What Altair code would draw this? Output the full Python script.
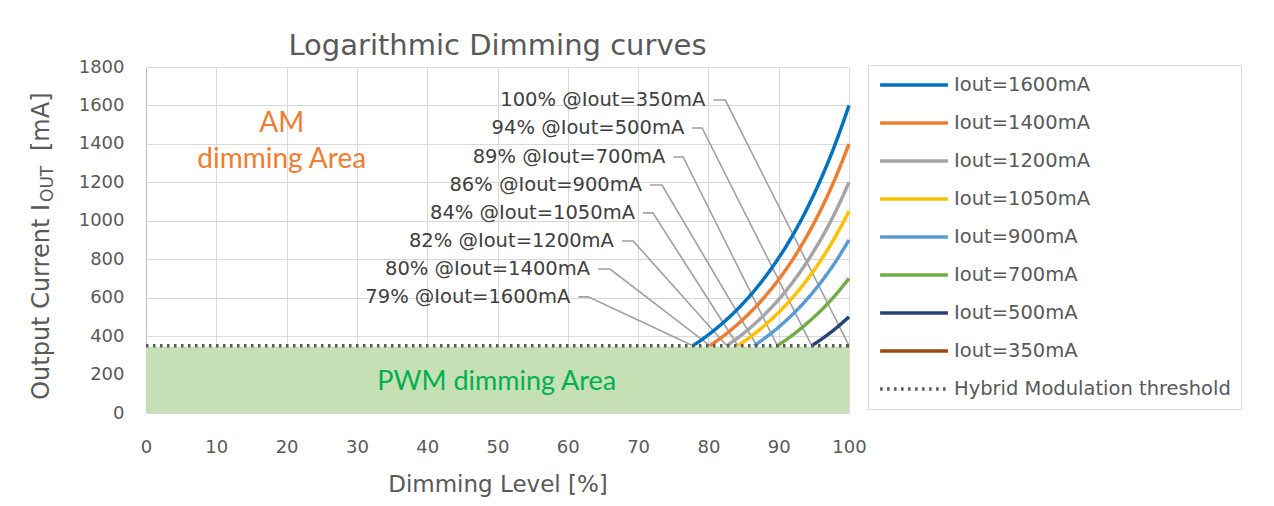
import altair as alt
import pandas as pd

# ---------------- data ----------------
series_names = ["Iout=1600mA", "Iout=1400mA", "Iout=1200mA", "Iout=1050mA",
                "Iout=900mA", "Iout=700mA", "Iout=500mA", "Iout=350mA",
                "Hybrid Modulation threshold"]
series_colors = ["#0070C0", "#ED7D31", "#A5A5A5", "#FFC000", "#5B9BD5",
                 "#70AD47", "#264478", "#9E480E", "#595959"]

x_1600 = [77.8, 80, 82, 84, 86, 88, 90, 92, 94, 96, 98, 100]
y_1600 = [350, 407, 467, 535, 614, 704, 807, 925, 1061, 1217, 1395, 1600]
x_1400 = [80.2, 82, 84, 86, 88, 90, 92, 94, 96, 98, 100]
y_1400 = [350, 397, 457, 525, 604, 695, 799, 920, 1058, 1217, 1400]
x_1200 = [82.6, 84, 86, 88, 90, 92, 94, 96, 98, 100]
y_1200 = [350, 386, 445, 513, 591, 681, 785, 904, 1041, 1200]
x_1050 = [84.2, 86, 88, 90, 92, 94, 96, 98, 100]
y_1050 = [350, 397, 456, 524, 602, 692, 795, 914, 1050]
x_900 = [86.5, 88, 90, 92, 94, 96, 98, 100]
y_900 = [350, 389, 447, 514, 591, 680, 782, 900]
x_700 = [89.8, 92, 94, 96, 98, 100]
y_700 = [350, 406, 466, 533, 611, 700]
x_500 = [94.7, 96, 98, 100]
y_500 = [350, 382, 437, 500]
x_350 = [99.8, 100]
y_350 = [350, 350]
x_thr = [0, 100]
y_thr = [350, 350]

# annotation labels and their leader lines
label_text = ["100% @Iout=350mA", "94% @Iout=500mA", "89% @Iout=700mA",
              "86% @Iout=900mA", "84% @Iout=1050mA", "82% @Iout=1200mA",
              "80% @Iout=1400mA", "79% @Iout=1600mA"]
label_y = [1628, 1483, 1332, 1186, 1041, 895, 749, 604]
leader_x1 = [80.7, 77.7, 75.0, 71.7, 70.7, 67.7, 64.3, 61.5]
leader_x2 = [82.4, 79.1, 76.4, 73.4, 72.1, 69.3, 66.0, 62.9]
leader_end_x = [100, 94.7, 89.8, 86.9, 84.2, 82.6, 80.2, 77.8]
leader_end_y = [350, 350, 350, 350, 350, 350, 350, 350]

# areas
pwm_x = [0, 100]
pwm_y = [0, 345]
area_text = ["AM", "dimming Area", "PWM dimming Area"]
area_text_x = [19.3, 19.3, 49.9]
area_text_y = [1504, 1316, 161]
area_text_color = ["#ED7D31", "#ED7D31", "#00B050"]
area_text_size = [28, 28, 27]

# ---------------- tables ----------------
xs = [x_1600, x_1400, x_1200, x_1050, x_900, x_700, x_500, x_350, x_thr]
ys = [y_1600, y_1400, y_1200, y_1050, y_900, y_700, y_500, y_350, y_thr]
rows = []
for name, xl, yl in zip(series_names, xs, ys):
    for i, (a, b) in enumerate(zip(xl, yl)):
        rows.append({"series": name, "x": a, "y": b, "ord": i})
curves = pd.DataFrame(rows)

lrows = []
for t, ly, a1, a2, ex, ey in zip(label_text, label_y, leader_x1, leader_x2,
                                 leader_end_x, leader_end_y):
    lrows.append({"label": t, "x": a1, "y": ly, "ord": 0})
    lrows.append({"label": t, "x": a2, "y": ly, "ord": 1})
    lrows.append({"label": t, "x": ex, "y": ey, "ord": 2})
leaders = pd.DataFrame(lrows)
labels = pd.DataFrame({"label": label_text, "x": leader_x1, "y": label_y})
pwm = pd.DataFrame({"x": [pwm_x[0]], "x2": [pwm_x[1]], "y": [pwm_y[0]], "y2": [pwm_y[1]]})
atext = pd.DataFrame({"t": area_text, "x": area_text_x, "y": area_text_y,
                      "c": area_text_color, "s": area_text_size})

FONT = "DejaVu Sans"
GREY = "#595959"

xscale = alt.Scale(domain=[0, 100], nice=False)
yscale = alt.Scale(domain=[0, 1800], nice=False)

x_axis = alt.Axis(values=list(range(0, 101, 10)), grid=True, ticks=False, domain=False,
                  labelPadding=25, labelFontSize=18, labelFont=FONT, labelColor=GREY,
                  labelOverlap=False, labelFlush=False, format="d",
                  title="Dimming Level [%]", titleFont=FONT, titleFontSize=23,
                  titleFontWeight="normal", titleColor=GREY, titlePadding=17,
                  gridColor="#D9D9D9")
y_axis = alt.Axis(values=list(range(0, 1801, 200)), tickCount=10, grid=True, ticks=False,
                  domain=True, domainColor="#BFBFBF", labelPadding=22, labelFontSize=18,
                  labelOverlap=False, labelFlush=False, format="d",
                  labelFont=FONT, labelColor=GREY, title=None, gridColor="#D9D9D9")

X = alt.X("x:Q", scale=xscale, axis=x_axis)
Y = alt.Y("y:Q", scale=yscale, axis=y_axis)

area = alt.Chart(pwm).mark_rect(color="#C5E0B4").encode(
    x=X, x2="x2:Q", y=Y, y2="y2:Q",
)

lead = alt.Chart(leaders).mark_line(color="#A0A0A0", strokeWidth=1.6).encode(
    x=X, y=Y, detail="label:N", order="ord:Q",
)

legend = alt.Legend(title=None, orient="none", legendX=722, legendY=-2,
                    direction="vertical", symbolType="stroke", symbolSize=4600,
                    symbolStrokeWidth=3.5, labelFont=FONT, labelFontSize=19.5,
                    labelColor=GREY, clipHeight=20, rowPadding=18, padding=10,
                    strokeColor="#D9D9D9", fillColor="white", labelOffset=4,
                    labelLimit=400)

lines = alt.Chart(curves).mark_line(interpolate="monotone", strokeCap="butt").encode(
    x=X, y=Y,
    color=alt.Color("series:N", scale=alt.Scale(domain=series_names, range=series_colors),
                    legend=legend, sort=series_names),
    strokeDash=alt.StrokeDash("series:N",
                              scale=alt.Scale(domain=series_names,
                                              range=[[1, 0]] * 8 + [[2.5, 4.5]]),
                              legend=legend, sort=series_names),
    strokeWidth=alt.StrokeWidth("series:N",
                                scale=alt.Scale(domain=series_names, range=[3.5] * 8 + [2.5]),
                                legend=None),
    order="ord:Q",
)

ltext = alt.Chart(labels).mark_text(align="right", baseline="middle", dx=-8,
                                    font=FONT, fontSize=19.5, color="#404040").encode(
    x=X, y=Y, text="label:N",
)

atxt = alt.Chart(atext).mark_text(align="center", baseline="middle", font="Lato").encode(
    x=X, y=Y,
    text="t:N",
    color=alt.Color("c:N", scale=None),
    size=alt.Size("s:Q", scale=None),
)

# y axis title with subscript
def ypiece(txt, xpix, ypix, size, align):
    return alt.Chart(pd.DataFrame({"t": [txt]})).mark_text(
        angle=270, align=align, baseline="middle", font=FONT, fontSize=size, color=GREY
    ).encode(x=alt.value(xpix), y=alt.value(ypix), text="t:N")

yt1 = ypiece("Output Current I", -104, 137, 24, "right")
yt2 = ypiece("OUT", -98, 135, 17, "left")
yt3 = ypiece("[mA]", -104, 84, 24, "left")

chart = alt.layer(area, lead, lines, ltext, atxt, yt1, yt2, yt3).properties(
    width=703, height=346,
    title=alt.TitleParams("Logarithmic Dimming curves", font=FONT, fontSize=29,
                          fontWeight="normal", color=GREY, anchor="middle", offset=-3),
    padding={"left": 138, "top": 59, "right": 409, "bottom": 90},
    autosize=alt.AutoSizeParams(type="none"),
    background="white",
).configure_view(stroke=None)

chart.save("out.html", embed_options={"renderer": "svg", "actions": False})
